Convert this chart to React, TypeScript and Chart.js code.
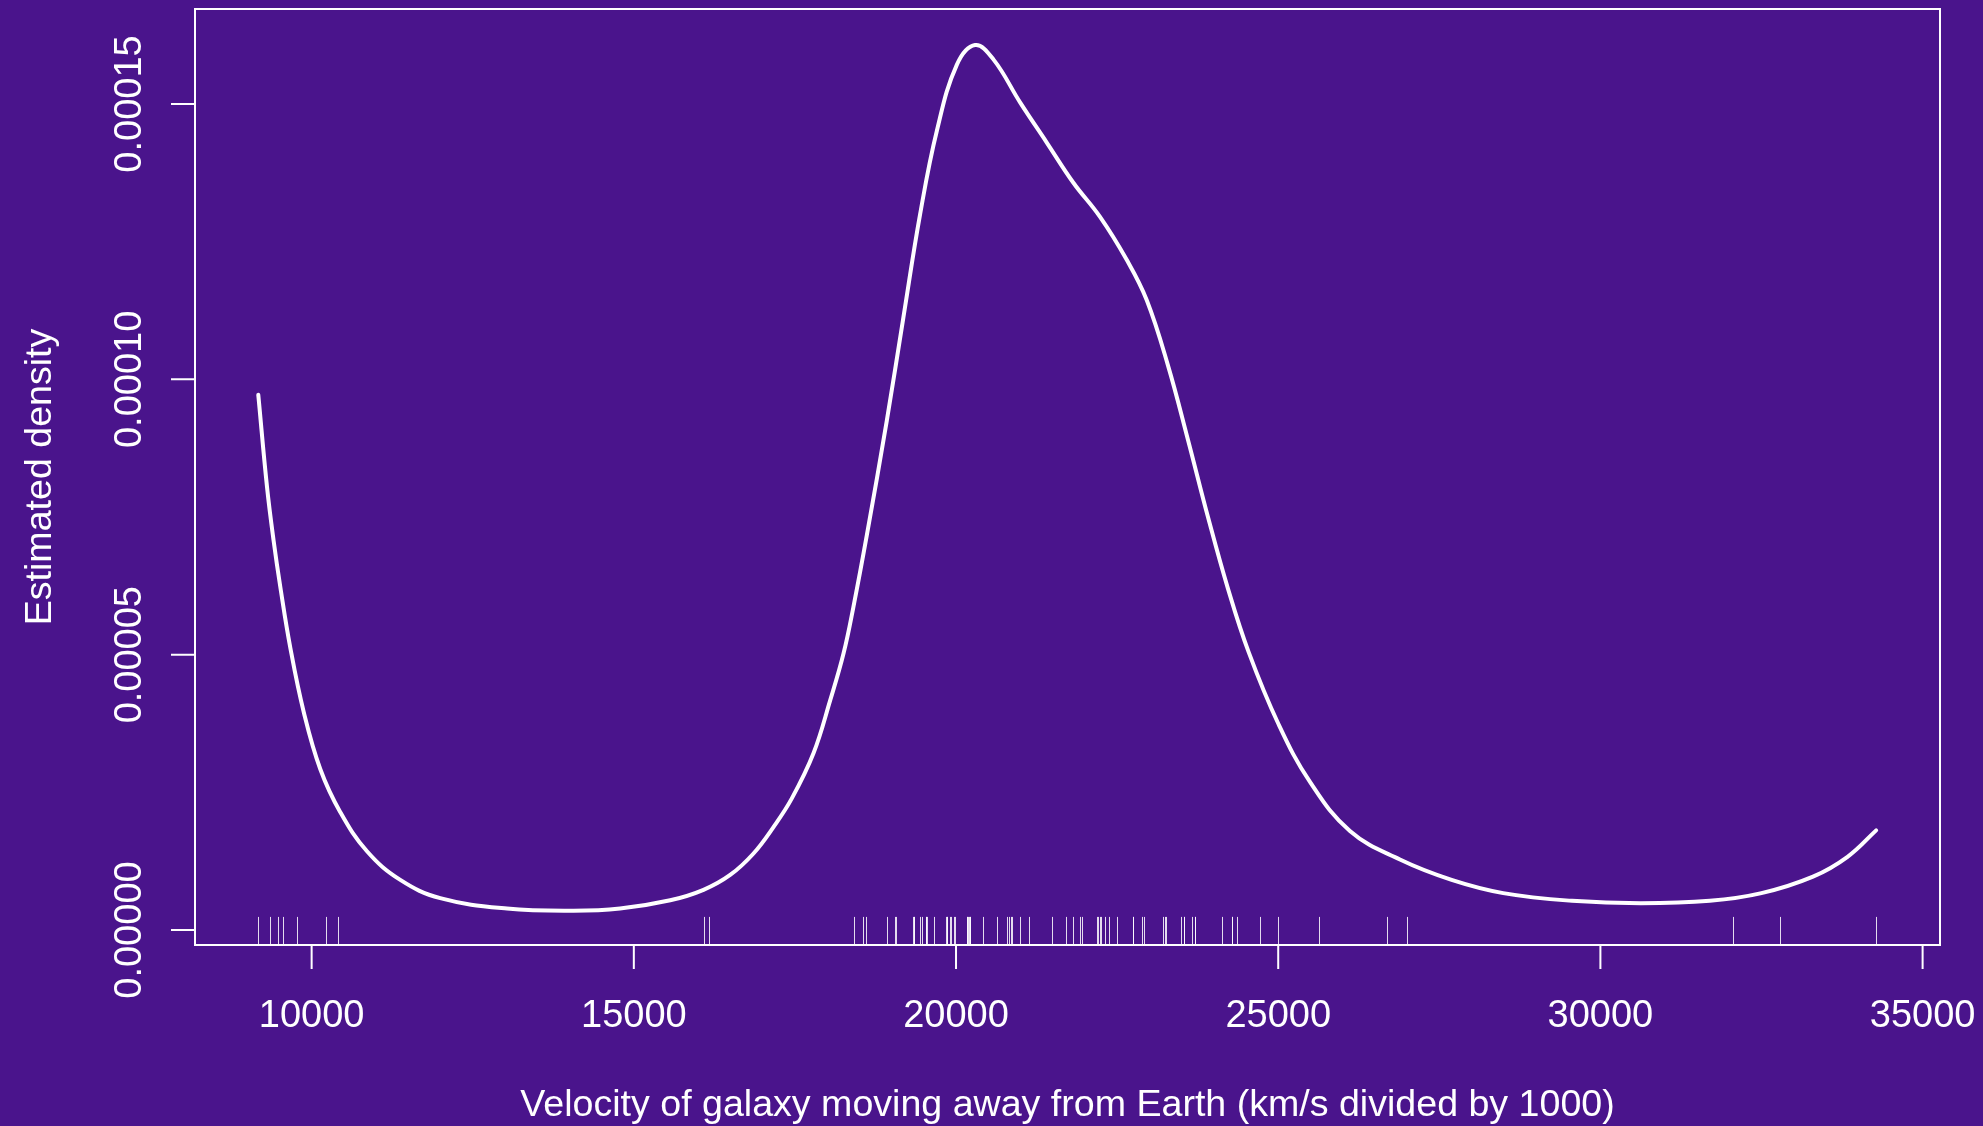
import React, { useEffect, useRef } from "react";
import { Chart, registerables } from "chart.js";

Chart.register(...registerables);

// Galaxy velocities (rug)
const rugValues = [
  9172, 9350, 9483, 9558, 9775, 10227, 10406, 16084, 16170, 18419, 18552, 18600,
  18927, 19052, 19070, 19330, 19343, 19349, 19440, 19473, 19529, 19541, 19547,
  19663, 19846, 19856, 19863, 19914, 19918, 19973, 19989, 20166, 20175, 20179,
  20196, 20215, 20221, 20415, 20629, 20795, 20821, 20846, 20875, 20986, 21137,
  21492, 21701, 21814, 21921, 21960, 22185, 22209, 22242, 22249, 22314, 22374,
  22495, 22746, 22747, 22888, 22914, 23206, 23241, 23263, 23484, 23538, 23542,
  23666, 23706, 23711, 24129, 24285, 24289, 24366, 24717, 24990, 25633, 26690,
  26995, 32065, 32789, 34279,
];

// Estimated density curve
const curveX = [
  9172, 9308, 9410, 9514, 9670, 9877, 10135, 10445, 10859, 11376, 11996, 13031,
  14065, 14786, 15565, 16081, 16495, 16857, 17167, 17452, 17788, 18047, 18254,
  18408, 18616, 18926, 19184, 19443, 19702, 20012, 20296, 20580, 20994, 21408,
  21821, 22235, 22649, 22959, 23290, 23600, 23910, 24220, 24540, 25000, 25493,
  26113, 26889, 27691, 28492, 29560, 30627, 31698, 32499, 33299, 33835, 34279,
];
const curveY = [
  9.72e-5, 8.04e-5, 7.07e-5, 6.23e-5, 5.12e-5, 3.96e-5, 2.92e-5, 2.14e-5, 1.43e-5,
  9.1e-6, 5.8e-6, 3.9e-6, 3.5e-6, 3.9e-6, 5.4e-6, 7.3e-6, 1.0e-5, 1.39e-5, 1.87e-5,
  2.39e-5, 3.21e-5, 4.17e-5, 5.02e-5, 5.87e-5, 7.17e-5, 9.25e-5, 1.113e-4, 1.3e-4,
  1.451e-4, 1.571e-4, 1.607e-4, 1.581e-4, 1.503e-4, 1.43e-4, 1.357e-4, 1.295e-4,
  1.217e-4, 1.144e-4, 1.025e-4, 8.9e-5, 7.5e-5, 6.2e-5, 5.05e-5, 3.75e-5, 2.69e-5,
  1.8e-5, 1.28e-5, 9.1e-6, 6.7e-6, 5.3e-6, 4.85e-6, 5.3e-6, 6.7e-6, 9.7e-6, 1.33e-5,
  1.81e-5,
];

const xTicks = [10000, 15000, 20000, 25000, 30000, 35000];
const xTickLabels = ["10000", "15000", "20000", "25000", "30000", "35000"];
const yTicks = [0, 0.00005, 0.0001, 0.00015];
const yTickLabels = ["0.00000", "0.00005", "0.00010", "0.00015"];

const xTitle = "Velocity of galaxy moving away from Earth (km/s divided by 1000)";
const yTitle = "Estimated density";

const BG = "#4A148C";
const FG = "#FFFFFF";
const FAMILY = "'Liberation Sans', Arial, Helvetica, sans-serif";
const FONT = "38px " + FAMILY;
const TITLE_FONT = "37.6px " + FAMILY;

const rPlotPlugin = {
  id: "rPlot",
  afterDraw(chart: any) {
    const ctx = chart.ctx as CanvasRenderingContext2D;
    const area = chart.chartArea;
    const xs = chart.scales.x;
    const ys = chart.scales.y;
    ctx.save();

    // rug
    ctx.strokeStyle = "rgba(255,255,255,0.85)";
    ctx.lineWidth = 1;
    const rugLen = (area.bottom - area.top) * 0.03;
    rugValues.forEach((v) => {
      const px = Math.round(xs.getPixelForValue(v)) + 0.5;
      ctx.beginPath();
      ctx.moveTo(px, area.bottom);
      ctx.lineTo(px, area.bottom - rugLen);
      ctx.stroke();
    });

    // box
    ctx.strokeStyle = FG;
    ctx.lineWidth = 2;
    ctx.strokeRect(area.left, area.top, area.right - area.left, area.bottom - area.top);

    const tickLen = 24;
    ctx.beginPath();
    xTicks.forEach((v) => {
      const px = xs.getPixelForValue(v);
      ctx.moveTo(px, area.bottom);
      ctx.lineTo(px, area.bottom + tickLen);
    });
    yTicks.forEach((v) => {
      const py = ys.getPixelForValue(v);
      ctx.moveTo(area.left, py);
      ctx.lineTo(area.left - tickLen, py);
    });
    ctx.stroke();

    ctx.fillStyle = FG;
    ctx.font = FONT;
    ctx.textAlign = "center";
    ctx.textBaseline = "alphabetic";
    xTicks.forEach((v, i) => {
      ctx.fillText(xTickLabels[i], xs.getPixelForValue(v), 1027);
    });
    yTicks.forEach((v, i) => {
      const py = ys.getPixelForValue(v);
      ctx.save();
      ctx.translate(141, py);
      ctx.rotate(-Math.PI / 2);
      ctx.fillText(yTickLabels[i], 0, 0);
      ctx.restore();
    });

    ctx.font = TITLE_FONT;
    const cx = (area.left + area.right) / 2;
    const cy = (area.top + area.bottom) / 2;
    ctx.fillText(xTitle, cx, 1116);
    ctx.save();
    ctx.translate(51, cy);
    ctx.rotate(-Math.PI / 2);
    ctx.fillText(yTitle, 0, 0);
    ctx.restore();

    ctx.restore();
  },
};

export default function App() {
  const ref = useRef<HTMLCanvasElement | null>(null);

  useEffect(() => {
    if (!ref.current) return;
    const chart = new Chart(ref.current, {
      type: "line",
      data: {
        datasets: [
          {
            data: curveX.map((x, i) => ({ x, y: curveY[i] })),
            borderColor: FG,
            borderWidth: 4,
            pointRadius: 0,
            fill: false,
            tension: 0.4,
            borderCapStyle: "round",
            borderJoinStyle: "round",
          },
        ],
      },
      options: {
        animation: false,
        responsive: false,
        maintainAspectRatio: false,
        devicePixelRatio: 1,
        layout: { padding: { left: 195, right: 43, top: 9, bottom: 181 } },
        plugins: { legend: { display: false }, tooltip: { enabled: false } },
        events: [],
        scales: {
          x: { type: "linear", min: 8190, max: 35270, display: false },
          y: { type: "linear", min: -2.72e-6, max: 1.6725e-4, display: false },
        },
      },
      plugins: [rPlotPlugin],
    });
    return () => chart.destroy();
  }, []);

  return (
    <div
      style={{
        position: "fixed",
        left: 0,
        top: 0,
        width: 1983,
        height: 1126,
        background: BG,
      }}
    >
      <canvas ref={ref} width={1983} height={1126} style={{ display: "block" }} />
    </div>
  );
}
